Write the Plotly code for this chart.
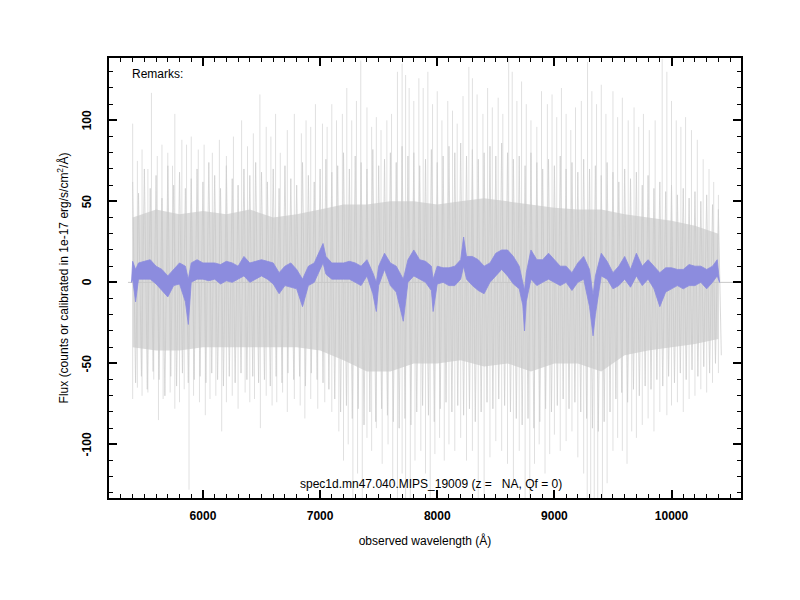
import plotly.graph_objects as go

# smoothed spectrum band (blue)
blue_wave = [5390, 5400, 5425, 5450, 5500, 5550, 5600, 5650, 5700, 5750, 5800, 5850, 5875, 5900,
             5950, 6000, 6050, 6100, 6150, 6200, 6250, 6300, 6350, 6400, 6450, 6500, 6550, 6600,
             6650, 6700, 6750, 6800, 6850, 6900, 6950, 7000, 7025, 7050, 7100, 7150, 7200, 7250,
             7300, 7350, 7400, 7450, 7480, 7500, 7550, 7600, 7650, 7710, 7750, 7800, 7850, 7900,
             7950, 7965, 8000, 8050, 8100, 8150, 8200, 8225, 8250, 8300, 8350, 8400, 8450, 8500,
             8550, 8600, 8650, 8700, 8730, 8745, 8760, 8800, 8850, 8900, 8950, 9000, 9050, 9100,
             9150, 9200, 9250, 9300, 9330, 9350, 9400, 9450, 9500, 9550, 9600, 9650, 9700, 9750,
             9800, 9850, 9900, 9950, 10000, 10050, 10100, 10150, 10200, 10250, 10300, 10350, 10390, 10410]
blue_hi = [0, 13, 8, 12, 13, 14, 10, 8, 4, 8, 12, 10, 2, 12,
           14, 12, 12, 12, 11, 13, 12, 10, 16, 12, 13, 14, 13, 12,
           6, 10, 12, 8, 2, 10, 12, 20, 24, 16, 12, 12, 12, 13,
           12, 10, 14, 6, 0, 10, 18, 12, 10, 2, 14, 20, 14, 13,
           10, 2, 10, 9, 9, 10, 14, 28, 16, 16, 14, 10, 12, 18,
           20, 20, 16, 10, 0, -5, 6, 20, 14, 14, 18, 14, 10, 10,
           6, 12, 16, 8, -8, 4, 18, 13, 6, 10, 16, 8, 18, 10,
           14, 10, 6, 9, 9, 8, 8, 11, 10, 10, 8, 10, 14, 0]
blue_lo = [0, 2, -12, 2, 2, 2, -1, -5, -9, -2, -1, -12, -26, 0,
           2, 2, 1, 2, -1, 1, 0, 2, 4, 0, 2, 4, 2, -1,
           -7, -2, -3, -4, -15, -2, 0, 8, 12, 5, 2, 2, 2, 2,
           0, -2, 4, -7, -18, -2, 8, -2, -6, -24, 0, 4, 2, 0,
           -5, -18, -1, 0, -2, -2, 2, 10, 2, -2, -5, -7, 0, 4,
           8, 4, -1, -4, -14, -30, -12, 2, -2, 0, 2, 0, -2, 0,
           -5, 0, 2, -15, -33, -20, 4, 2, -4, -2, 2, -3, 4, -2,
           2, -4, -15, -6, -4, -2, -4, -2, -2, 0, -4, 0, 4, 0]

# dense noise core (grey), every 200 A
core_wave = [5400, 5600, 5800, 6000, 6200, 6400, 6600, 6800, 7000, 7200, 7400, 7600, 7800,
             8000, 8200, 8400, 8600, 8800, 9000, 9200, 9400, 9600, 9800, 10000, 10200, 10400]
core_hi = [40, 45, 42, 44, 42, 45, 40, 42, 45, 48, 48, 50, 50,
           48, 50, 52, 50, 48, 46, 45, 45, 42, 40, 38, 35, 30]
core_lo = [-40, -42, -42, -40, -40, -40, -40, -40, -42, -48, -55, -55, -50,
           -50, -48, -52, -50, -55, -50, -50, -55, -45, -42, -40, -38, -35]

# noise swing every 50 A (5400 ... 10400)
noise_wave = list(range(5400, 10401, 50))
noise_hi = [62, 55, 70, 58, 66, 52, 72, 60, 68, 58, 64,
            70, 62, 74, 66, 58, 72, 64, 60, 70, 66, 74,
            68, 62, 70, 58, 72, 64, 60, 74, 66, 62, 70,
            76, 68, 72, 80, 70, 78, 74, 70, 82, 72, 76,
            80, 74, 84, 78, 80, 72, 76, 82, 74, 78, 84,
            80, 86, 78, 82, 76, 80, 84, 78, 86, 80, 76,
            78, 72, 80, 74, 70, 76, 72, 78, 70, 74, 68,
            76, 70, 72, 66, 74, 68, 62, 70, 64, 68, 60,
            66, 58, 62, 56, 60, 54, 58, 52, 56, 50, 54,
            48, 45]
noise_lo = [-62, -58, -66, -55, -60, -70, -58, -64, -56, -62, -60,
            -58, -62, -56, -60, -64, -58, -62, -56, -60, -58, -62,
            -60, -64, -58, -62, -56, -60, -58, -64, -56, -60, -62,
            -66, -72, -80, -76, -84, -78, -88, -80, -86, -78, -82,
            -86, -90, -84, -88, -80, -76, -82, -86, -78, -74, -80,
            -76, -82, -78, -86, -80, -74, -78, -72, -76, -80, -84,
            -88, -84, -90, -86, -78, -80, -76, -72, -78, -74, -80,
            -84, -90, -92, -86, -80, -72, -68, -74, -66, -70, -64,
            -66, -60, -64, -58, -62, -56, -60, -54, -58, -52, -56,
            -50, -45]

# single tall noise spikes
up_wave = [5400, 5440, 5480, 5530, 5560, 5610, 5650, 5700, 5740, 5760, 5820, 5860, 5900, 5960,
           6010, 6080, 6140, 6200, 6260, 6330, 6380, 6430, 6486, 6540, 6580, 6620, 6660, 6720,
           6780, 6840, 6880, 6920, 6960, 7020, 7060, 7100, 7140, 7190, 7228, 7270, 7310, 7347,
           7400, 7440, 7480, 7520, 7570, 7610, 7660, 7700, 7730, 7760, 7800, 7843, 7880, 7920,
           7960, 8000, 8040, 8090, 8130, 8170, 8220, 8270, 8300, 8340, 8390, 8430, 8470, 8520,
           8560, 8610, 8640, 8680, 8720, 8760, 8800, 8850, 8890, 8940, 8980, 9020, 9060, 9100,
           9140, 9180, 9230, 9283, 9320, 9360, 9400, 9440, 9500, 9540, 9580, 9630, 9680, 9720,
           9760, 9810, 9860, 9920, 9960, 10000, 10040, 10080, 10120, 10170, 10220, 10270, 10320,
           10360, 10400]
up_flux = [98, 75, 82, 70, 117, 78, 85, 80, 72, 104, 88, 85, 90, 82,
           85, 80, 88, 78, 90, 100, 84, 92, 116, 96, 90, 104, 80, 94,
           104, 92, 100, 96, 110, 98, 96, 110, 100, 104, 120, 100, 112, 137,
           108, 96, 102, 94, 100, 104, 130, 135, 128, 120, 112, 126, 120, 130,
           110, 118, 100, 112, 106, 98, 115, 133, 126, 116, 104, 120, 108, 114,
           104, 138, 130, 112, 124, 110, 100, 96, 118, 110, 116, 102, 120, 104,
           94, 108, 112, 136, 118, 110, 122, 104, 118, 102, 114, 100, 108, 96,
           104, 94, 100, 138, 130, 112, 100, 96, 102, 94, 88, 76, 70,
           62, 54]
dn_wave = [5400, 5440, 5480, 5530, 5580, 5620, 5660, 5720, 5760, 5800, 5840, 5881, 5920, 5970,
           6020, 6060, 6110, 6160, 6200, 6250, 6300, 6360, 6400, 6440, 6490, 6540, 6590, 6630,
           6680, 6720, 6780, 6830, 6870, 6920, 6980, 7040, 7100, 7160, 7200, 7240, 7280, 7320,
           7360, 7400, 7440, 7480, 7530, 7580, 7620, 7660, 7700, 7730, 7770, 7810, 7860, 7900,
           7940, 7980, 8020, 8060, 8100, 8150, 8200, 8250, 8300, 8350, 8400, 8450, 8500, 8550,
           8600, 8650, 8700, 8750, 8790, 8830, 8870, 8920, 8960, 9000, 9050, 9100, 9150, 9200,
           9250, 9280, 9310, 9340, 9370, 9410, 9450, 9500, 9540, 9580, 9620, 9660, 9700, 9750,
           9800, 9850, 9900, 9960, 10000, 10050, 10100, 10150, 10200, 10250, 10300, 10350, 10400]
dn_flux = [-72, -65, -70, -68, -60, -85, -72, -68, -78, -74, -66, -128, -70, -74,
           -82, -72, -70, -92, -74, -70, -78, -68, -74, -72, -90, -70, -76, -74,
           -68, -80, -72, -76, -84, -72, -78, -74, -80, -92, -110, -100, -140, -118,
           -140, -96, -104, -90, -112, -100, -124, -140, -118, -140, -140, -110, -104, -118,
           -140, -106, -96, -110, -100, -104, -96, -110, -104, -140, -140, -108, -98, -104,
           -112, -126, -104, -140, -140, -112, -100, -118, -106, -94, -104, -98, -92, -108,
           -118, -140, -140, -140, -140, -140, -124, -104, -96, -104, -112, -92, -96, -88,
           -84, -92, -80, -82, -76, -74, -80, -72, -70, -66, -68, -62, -56]

# flat zero padding drawn outside the observed range
pad_wave = [5360, 10546]
pad_flux = [0, 0]

# y tick labels (drawn rotated, as annotations)
ytick_vals = [-100, -50, 0, 50, 100]

title_text = "spec1d.mn47.040.MIPS_19009 (z =   NA, Qf = 0)"

fig = go.Figure()

# spikes as separate vertical strokes from zero
sx, sy = [], []
for w, f in list(zip(up_wave, up_flux)) + list(zip(dn_wave, dn_flux)):
    sx += [w, w, None]
    sy += [0, f, None]
fig.add_trace(go.Scatter(x=sx, y=sy, mode="lines", line=dict(color="rgb(224,224,224)", width=1),
                         hoverinfo="skip"))

# zigzag noise between the swing values
zx, zy = [], []
for w, h, l in zip(noise_wave, noise_hi, noise_lo):
    zx += [w, w + 25]
    zy += [h, l]
fig.add_trace(go.Scatter(x=zx, y=zy, mode="lines", line=dict(color="rgba(208,208,208,0.8)", width=1),
                         hoverinfo="skip"))

# dense core
fig.add_trace(go.Scatter(x=core_wave + core_wave[::-1], y=core_hi + core_lo[::-1], fill="toself",
                         fillcolor="rgba(200,200,200,0.65)", line=dict(width=0), hoverinfo="skip"))

fig.add_trace(go.Scatter(x=pad_wave, y=pad_flux, mode="lines", line=dict(color="rgb(200,200,200)", width=1),
                         hoverinfo="skip"))

# smoothed spectrum
fig.add_trace(go.Scatter(x=blue_wave + blue_wave[::-1], y=blue_hi + blue_lo[::-1], fill="toself",
                         fillcolor="rgb(140,140,222)", line=dict(color="rgb(140,140,222)", width=0.8),
                         hoverinfo="skip"))

axis_style = dict(showline=True, linecolor="black", linewidth=2, mirror="allticks",
                  ticks="inside", ticklen=8, tickwidth=2, tickcolor="black",
                  showgrid=False, zeroline=False, tickformat="d",
                  tickfont=dict(family="Liberation Sans", size=12, color="black", weight="bold"))

fig.update_xaxes(range=[5198, 10593], dtick=1000, tick0=0, ticklabelstandoff=6,
                 minor=dict(ticks="inside", ticklen=4, tickwidth=1, dtick=100, tickcolor="black"),
                 title=dict(text="observed wavelength (Å)", font=dict(size=12, color="black"), standoff=14),
                 **axis_style)
fig.update_yaxes(range=[-133.1, 138.5], tickvals=ytick_vals, showticklabels=False,
                 minor=dict(ticks="inside", ticklen=4, tickwidth=1, dtick=10, tickcolor="black"),
                 title=dict(text="Flux (counts or calibrated in 1e-17 erg/s/cm<sup>2</sup>/Å)",
                            font=dict(size=12, color="black"), standoff=36),
                 **axis_style)

for v in ytick_vals:
    fig.add_annotation(text=str(v), xref="paper", yref="y", x=0, y=v, xshift=-22,
                       textangle=-90, showarrow=False, xanchor="center", yanchor="middle",
                       font=dict(family="Liberation Sans", size=12, color="black", weight="bold"))

fig.add_annotation(text="Remarks:", xref="paper", yref="paper", x=0.033, y=0.985,
                   xanchor="left", yanchor="top", showarrow=False,
                   font=dict(family="Liberation Sans", size=12, color="black"))
fig.add_annotation(text=title_text, xref="paper", yref="paper", x=0.51, y=0.012,
                   xanchor="center", yanchor="bottom", showarrow=False,
                   font=dict(family="Liberation Sans", size=12, color="black"))

# page body has an 8px margin, so shift the plot area up and left to line up with the reference
fig.update_layout(width=800, height=600, showlegend=False,
                  margin=dict(l=101, r=67, t=50, b=110),
                  paper_bgcolor="white", plot_bgcolor="white",
                  font=dict(family="Liberation Sans", size=12, color="black"))

fig.write_html("out.html")
